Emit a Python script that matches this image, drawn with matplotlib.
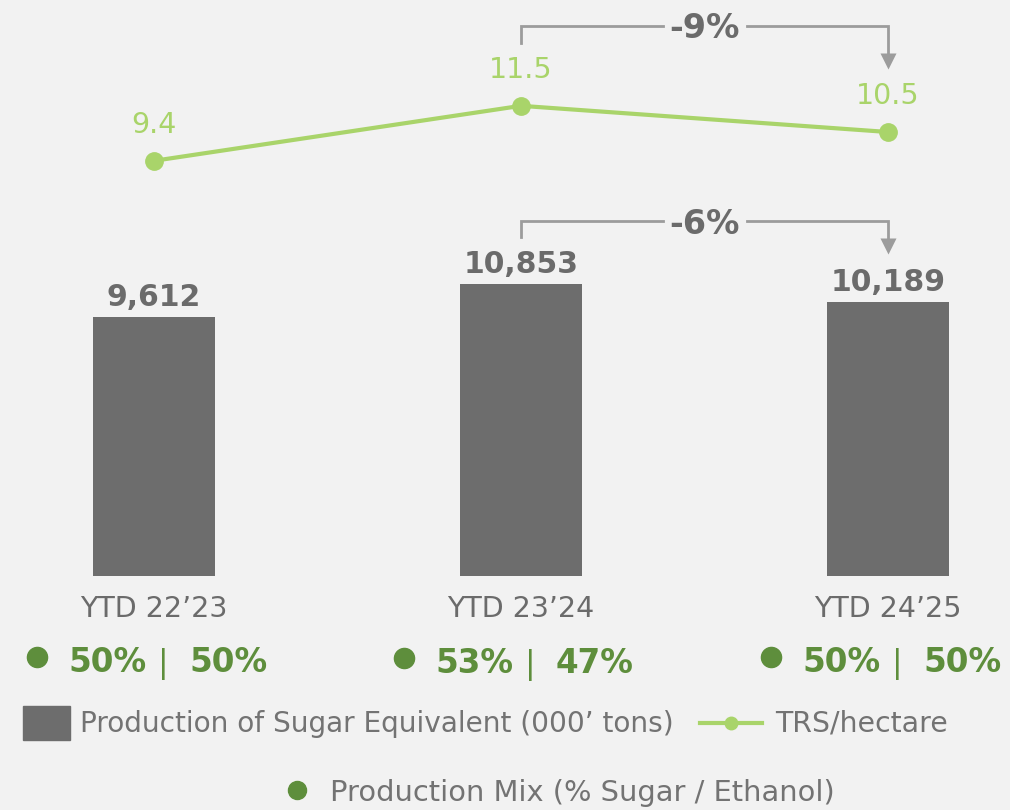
import matplotlib.pyplot as plt
from matplotlib.patches import Rectangle
from matplotlib.lines import Line2D

# data
categories = ["YTD 22\u201923", "YTD 23\u201924", "YTD 24\u201925"]
sugar_equiv = [9612, 10853, 10189]
trs_hectare = [9.4, 11.5, 10.5]
mix_sugar = [50, 53, 50]
mix_ethanol = [50, 47, 50]
changes = [("-9%", "trs"), ("-6%", "bar")]

BG = "#f2f2f2"
BAR_GRAY = "#6d6d6d"
TEXT_GRAY = "#6b6b6b"
LEG_GRAY = "#737373"
LINE_GREEN = "#a9d46a"
MIX_GREEN = "#5e8e3c"
ARROW_GRAY = "#9c9c9c"

W, H = 1010, 810
fig = plt.figure(figsize=(W / 100, H / 100), dpi=100, facecolor=BG)
ax = fig.add_axes([0, 0, 1, 1])
ax.set_facecolor(BG)
ax.set_axis_off()

# x: category centres 367 px apart, first one at 154 px
ax.set_xlim(-154 / 367, (W - 154) / 367)
# bars: zero at 576 px from top, 0.0269 px per unit
bscale = 0.02690
ax.set_ylim((576 - H) / bscale, 576 / bscale)

x = list(range(len(categories)))
ax.bar(x, sugar_equiv, width=122 / 367, color=BAR_GRAY, zorder=2)
for i, v in zip(x, sugar_equiv):
    ax.annotate(f"{v:,}", (i, v), xytext=(0, 8), textcoords="offset points",
                ha="center", va="baseline", fontsize=21.5, fontweight="bold",
                color=TEXT_GRAY)

# line on its own scale: zero at 407 px from top, 26.19 px per unit
ax2 = ax.twinx()
ax2.set_axis_off()
lscale = 26.19
ax2.set_ylim((407 - H) / lscale, 407 / lscale)
ax2.plot(x, trs_hectare, color=LINE_GREEN, lw=3, marker="o", ms=12.5, zorder=3)
for i, v in zip(x, trs_hectare):
    ax2.annotate(f"{v}", (i, v), xytext=(0, 20), textcoords="offset points",
                 ha="center", va="baseline", fontsize=20.5, color=LINE_GREEN)

xt = ax.get_xaxis_transform()


def fy(py):
    return 1 - py / H


# category labels
for i, c in zip(x, categories):
    ax.text(i, fy(617), c, transform=xt, ha="center", va="baseline",
            fontsize=20.5, color=TEXT_GRAY)

# production mix rows
for i, s, e in zip(x, mix_sugar, mix_ethanol):
    py = 657 + (1 if i == 1 else 0)
    ax.plot([i - 117 / 367], [fy(py)], transform=xt, marker="o", ms=14.5,
            color=MIX_GREEN, clip_on=False)
    ax.text(i - 86 / 367, fy(py + 15), f"{s}%", transform=xt, ha="left",
            va="baseline", fontsize=23.5, fontweight="bold", color=MIX_GREEN)
    ax.text(i + 9 / 367, fy(py + 15), "|", transform=xt, ha="center",
            va="baseline", fontsize=23, color=MIX_GREEN)
    ax.text(i + 35 / 367, fy(py + 15), f"{e}%", transform=xt, ha="left",
            va="baseline", fontsize=23.5, fontweight="bold", color=MIX_GREEN)


# change brackets between the last two periods
def bracket(label, y_line, y_start, y_tip, x0=1, x1=2):
    gap = 42 / 367
    mid = (x0 + x1) / 2
    ax.plot([x0, x0, mid - gap], [fy(y_start), fy(y_line), fy(y_line)],
            transform=xt, color=ARROW_GRAY, lw=2, solid_joinstyle="miter")
    ax.plot([mid + gap, x1, x1], [fy(y_line), fy(y_line), fy(y_tip - 14)],
            transform=xt, color=ARROW_GRAY, lw=2, solid_joinstyle="miter")
    ax.plot([x1], [fy(y_tip - 7.5)], transform=xt, marker="v", ms=12,
            color=ARROW_GRAY, mec="none")
    ax.text(mid, fy(y_line + 3), label, transform=xt, ha="center",
            va="center", fontsize=24, fontweight="bold", color=TEXT_GRAY)


bracket(changes[0][0], 26, 43, 68)
bracket(changes[1][0], 221, 237, 253)

# legend (drawn by hand to keep the layout)
fig.patches.append(Rectangle((23 / W, fy(740)), 47 / W, 34 / H,
                             transform=fig.transFigure, color=BAR_GRAY))
fig.text(80 / W, fy(724), "Production of Sugar Equivalent (000\u2019 tons)",
         ha="left", va="center", fontsize=20.2, color=LEG_GRAY)
fig.lines.append(Line2D([700 / W, 762 / W], [fy(723), fy(723)],
                        transform=fig.transFigure, color=LINE_GREEN, lw=3))
fig.lines.append(Line2D([731 / W], [fy(723)], transform=fig.transFigure,
                        color=LINE_GREEN, marker="o", ms=9, ls="none"))
fig.text(775 / W, fy(724), "TRS/hectare", ha="left", va="center",
         fontsize=20.4, color=LEG_GRAY)
fig.lines.append(Line2D([297 / W], [fy(790)], transform=fig.transFigure,
                        color=MIX_GREEN, marker="o", ms=13, ls="none"))
fig.text(330 / W, fy(793), "Production Mix (% Sugar / Ethanol)", ha="left",
         va="center", fontsize=20.8, color=LEG_GRAY)

fig.savefig("out.png", dpi=100, facecolor=BG)
